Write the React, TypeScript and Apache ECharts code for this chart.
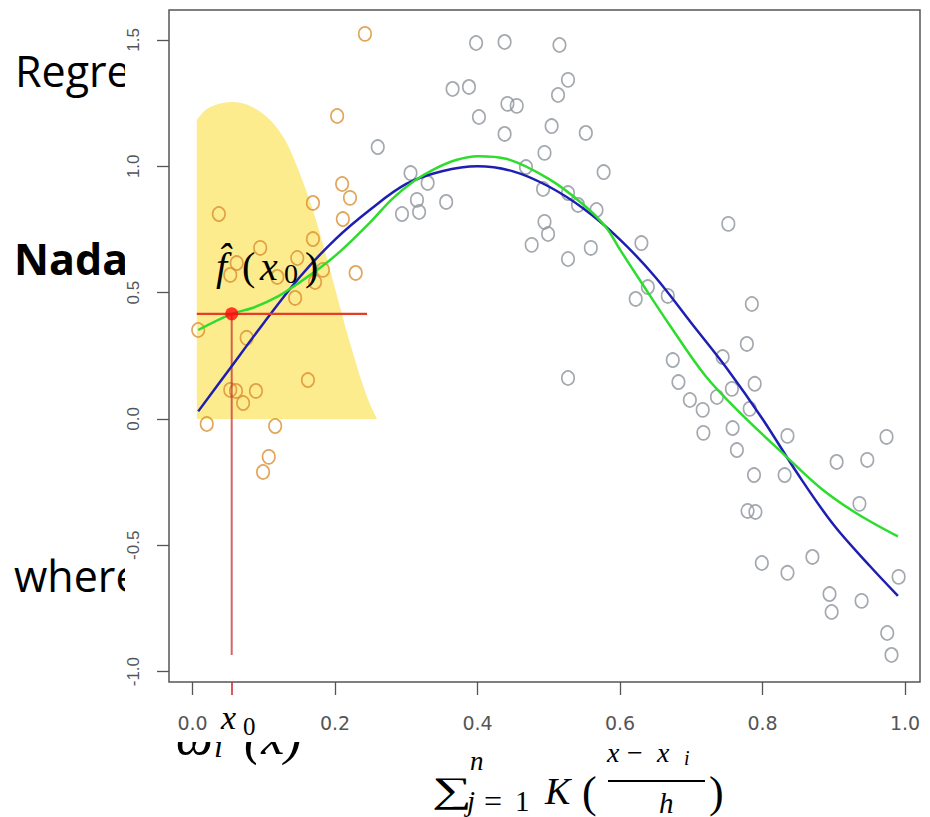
import React, { useEffect, useRef } from "react";
import * as echarts from "echarts";

// ---- axes ----
const xTicks = [0, 0.2, 0.4, 0.6, 0.8, 1.0];
const yTicks = [-1.0, -0.5, 0.0, 0.5, 1.0, 1.5];
const xRange = [-0.033, 1.021];
const yRange = [-1.041, 1.6185];

// ---- target point ----
const x0 = 0.055;
const fx0 = 0.416;
const hLineX = [0.006, 0.245];
const vLineBottom = -0.934;

// ---- observations near x0 (orange) ----
const orangePts: number[][] = [
  [0.242, 1.524], [0.203, 1.199], [0.037, 0.811], [0.21, 0.93], [0.221, 0.875],
  [0.169, 0.855], [0.211, 0.791], [0.169, 0.712], [0.229, 0.578], [0.095, 0.677],
  [0.062, 0.617], [0.053, 0.57], [0.119, 0.562], [0.147, 0.637], [0.172, 0.542],
  [0.183, 0.59], [0.144, 0.479], [0.076, 0.321], [0.008, 0.352], [0.053, 0.115],
  [0.061, 0.111], [0.089, 0.111], [0.071, 0.063], [0.162, 0.154], [0.02, -0.02],
  [0.116, -0.028], [0.107, -0.15], [0.099, -0.21],
];

// ---- other observations (grey) ----
const greyPts: number[][] = [
  [0.26, 1.076], [0.306, 0.973], [0.315, 0.867], [0.294, 0.811], [0.318, 0.819],
  [0.33, 0.934], [0.356, 0.859], [0.398, 1.488], [0.438, 1.492], [0.515, 1.48],
  [0.365, 1.306], [0.388, 1.314], [0.527, 1.342], [0.513, 1.282], [0.442, 1.247],
  [0.455, 1.239], [0.402, 1.195], [0.504, 1.159], [0.438, 1.128], [0.552, 1.132],
  [0.494, 1.053], [0.468, 0.997], [0.577, 0.977], [0.492, 0.91], [0.527, 0.894],
  [0.541, 0.847], [0.567, 0.827], [0.494, 0.78], [0.499, 0.732], [0.476, 0.689],
  [0.559, 0.677], [0.527, 0.633], [0.63, 0.696], [0.639, 0.522], [0.622, 0.475],
  [0.667, 0.487], [0.674, 0.233], [0.527, 0.162], [0.752, 0.772], [0.785, 0.455],
  [0.778, 0.297], [0.744, 0.245], [0.682, 0.146], [0.789, 0.139], [0.757, 0.119],
  [0.736, 0.087], [0.698, 0.075], [0.716, 0.036], [0.782, 0.04], [0.717, -0.055],
  [0.758, -0.036], [0.764, -0.123], [0.835, -0.067], [0.788, -0.222], [0.831, -0.222],
  [0.904, -0.17], [0.947, -0.162], [0.974, -0.071], [0.936, -0.336], [0.779, -0.364],
  [0.79, -0.368], [0.799, -0.57], [0.835, -0.609], [0.87, -0.546], [0.894, -0.693],
  [0.897, -0.764], [0.939, -0.72], [0.991, -0.625], [0.975, -0.847], [0.981, -0.934],
];

// ---- true function (blue) ----
const blueCurve: number[][] = [
  [0.008, 0.03], [0.05, 0.19], [0.1, 0.38], [0.15, 0.56], [0.2, 0.71],
  [0.25, 0.83], [0.3, 0.93], [0.35, 0.98], [0.4, 1.0], [0.45, 0.98],
  [0.5, 0.92], [0.55, 0.83], [0.6, 0.71], [0.65, 0.56], [0.7, 0.38],
  [0.75, 0.2], [0.8, 0.0], [0.85, -0.22], [0.9, -0.42], [0.95, -0.58],
  [0.99, -0.7],
];

// ---- kernel estimate (green) ----
const greenCurve: number[][] = [
  [0.008, 0.352], [0.055, 0.416], [0.085, 0.44], [0.12, 0.485], [0.15, 0.54],
  [0.18, 0.6], [0.21, 0.67], [0.25, 0.78], [0.28, 0.87], [0.31, 0.94],
  [0.34, 0.99], [0.37, 1.025], [0.4, 1.04], [0.44, 1.03], [0.5, 0.95],
  [0.55, 0.845], [0.58, 0.76], [0.6, 0.67], [0.63, 0.54], [0.67, 0.37],
  [0.72, 0.17], [0.77, 0.02], [0.83, -0.14], [0.88, -0.27], [0.93, -0.37],
  [0.99, -0.465],
];

// ---- kernel weight shape (yellow) ----
const kernelShape: number[][] = [
  [0.006, 1.183], [0.018, 1.223], [0.032, 1.243], [0.055, 1.254], [0.081, 1.239],
  [0.109, 1.183], [0.13, 1.104], [0.147, 0.997], [0.169, 0.827], [0.193, 0.59],
  [0.221, 0.301], [0.245, 0.087], [0.259, 0.0],
];

const SERIF = '"Liberation Serif", "DejaVu Serif", serif';

function txt(
  text: string,
  x: number,
  y: number,
  size: number,
  opts: { italic?: boolean; bold?: boolean; family?: string; align?: string; z?: number; scaleX?: number } = {}
) {
  const align = opts.align || "left";
  return {
    type: "text",
    x,
    y,
    scaleX: opts.scaleX ?? 1,
    z: opts.z ?? 30,
    silent: true,
    style: {
      text,
      fill: "#000",
      fontSize: size,
      fontFamily: opts.family || SERIF,
      fontStyle: opts.italic ? "italic" : "normal",
      fontWeight: opts.bold ? "bold" : "normal",
      textAlign: align,
      align,
      textVerticalAlign: "middle",
      verticalAlign: "middle",
    },
  };
}

export default function App() {
  const ref = useRef<HTMLDivElement>(null);

  useEffect(() => {
    document.body.style.margin = "0";
    if (!ref.current) return;
    const chart = echarts.init(ref.current, null, { renderer: "svg" });
    const SANS = '"Open Sans", "Noto Sans", sans-serif';

    const option: any = {
      animation: false,
      grid: {
        left: 169,
        right: 10,
        top: 10,
        bottom: 135,
        show: true,
        borderColor: "#555",
        borderWidth: 1.5,
        backgroundColor: "transparent",
        z: 10,
      },
      xAxis: [
        {
          type: "value",
          min: xRange[0],
          max: xRange[1],
          position: "bottom",
          z: 10,
          splitLine: { show: false },
          axisLine: { show: false, onZero: false },
          axisTick: { show: true, customValues: xTicks, length: 13, lineStyle: { color: "#555", width: 1.3 } },
          axisLabel: {
            customValues: xTicks,
            formatter: (v: number) => v.toFixed(1),
            margin: 31,
            fontSize: 19,
            fontFamily: '"DejaVu Sans", sans-serif',
            color: "#555",
          },
        },
        {
          type: "value",
          min: xRange[0],
          max: xRange[1],
          position: "bottom",
          z: 10,
          splitLine: { show: false },
          axisLine: { show: false, onZero: false },
          axisTick: { show: true, customValues: [x0], length: 13, lineStyle: { color: "rgba(200,50,50,0.8)", width: 2 } },
          axisLabel: { show: false },
        },
      ],
      yAxis: {
        type: "value",
        min: yRange[0],
        max: yRange[1],
        position: "left",
        z: 10,
        splitLine: { show: false },
        axisLine: { show: false, onZero: false },
        axisTick: { show: true, customValues: yTicks, length: 12, lineStyle: { color: "#555", width: 1.3 } },
        axisLabel: {
          customValues: yTicks,
          formatter: (v: number) => v.toFixed(1),
          rotate: 90,
          margin: 27,
          fontSize: 17,
          fontFamily: '"Liberation Sans", Arial, sans-serif',
          color: "#555",
        },
      },
      series: [
        {
          type: "line",
          data: kernelShape,
          smooth: 0.3,
          symbol: "none",
          lineStyle: { width: 0 },
          areaStyle: { color: "#FDEC8E", opacity: 1 },
          z: 10,
          silent: true,
        },
        {
          type: "scatter",
          data: orangePts,
          symbol: "circle",
          symbolSize: [12.5, 14],
          itemStyle: { color: "transparent", borderColor: "#D98E32", borderWidth: 1.7 },
          z: 11,
          silent: true,
        },
        {
          type: "scatter",
          data: greyPts,
          symbol: "circle",
          symbolSize: [12.5, 14],
          itemStyle: { color: "transparent", borderColor: "#8D949C", borderWidth: 1.7 },
          z: 11,
          silent: true,
        },
        {
          type: "line",
          data: [[x0, fx0], [x0, vLineBottom]],
          symbol: "none",
          lineStyle: { color: "rgba(200,50,50,0.75)", width: 2 },
          z: 12,
          silent: true,
        },
        {
          type: "line",
          data: blueCurve,
          smooth: 0.35,
          symbol: "none",
          lineStyle: { color: "#1E1EB2", width: 2.5 },
          z: 13,
          silent: true,
        },
        {
          type: "line",
          data: greenCurve,
          smooth: 0.35,
          symbol: "none",
          lineStyle: { color: "#2EDC2E", width: 2.5 },
          z: 13,
          silent: true,
        },
        {
          type: "line",
          data: [[hLineX[0], fx0], [hLineX[1], fx0]],
          symbol: "none",
          lineStyle: { color: "#E43E2A", width: 2.2 },
          z: 14,
          silent: true,
        },
        {
          type: "scatter",
          data: [[x0, fx0]],
          symbol: "circle",
          symbolSize: 13,
          itemStyle: { color: "#FF0A0A" },
          z: 15,
          silent: true,
        },
      ],
      graphic: {
        elements: [
          // slide text behind the plot picture
          txt("Regre", 15, 70, 43, { family: SANS, z: 1 }),
          txt("Nada", 14, 258, 43, { family: SANS, bold: true, z: 1 }),
          txt("where", 14, 575, 43, { family: SANS, z: 1 }),
          txt("ω", 176, 736, 52, { italic: true, z: 1 }),
          txt("i", 214, 746, 32, { italic: true, z: 1 }),
          txt("(x)", 244, 736, 52, { italic: true, z: 1 }),
          // plot picture background
          {
            type: "rect",
            z: 5,
            silent: true,
            shape: { x: 125, y: 0, width: 805, height: 742 },
            style: { fill: "#ffffff" },
          },
          // f-hat(x0) label
          txt("f\u0302", 216, 266, 40, { italic: true }),
          txt("(", 242, 266, 40),
          txt("x", 260, 266, 40, { italic: true }),
          txt("0", 284, 273, 28),
          txt(")", 305, 266, 40),
          // x0 axis label
          txt("x", 221, 717, 34, { italic: true }),
          txt("0", 243, 726, 25),
          // weight formula denominator
          txt("\u2211", 432, 790, 36, { scaleX: 1.55 }),
          txt("n", 470, 761, 27, { italic: true }),
          txt("j", 467, 801, 29, { italic: true }),
          txt("=", 484, 801, 32),
          txt("1", 515, 801, 29),
          txt("K", 545, 791, 38, { italic: true }),
          txt("(", 582, 792, 44),
          txt("x", 607, 752, 28, { italic: true }),
          txt("\u2212", 627, 752, 28),
          txt("x", 657, 752, 28, { italic: true }),
          txt("i", 684, 758, 20, { italic: true }),
          {
            type: "line",
            z: 30,
            silent: true,
            shape: { x1: 608, y1: 781, x2: 705, y2: 781 },
            style: { stroke: "#000", lineWidth: 2 },
          },
          txt("h", 659, 803, 29, { italic: true }),
          txt(")", 709, 792, 44),
        ],
      },
    };

    chart.setOption(option);
    return () => chart.dispose();
  }, []);

  return <div ref={ref} style={{ width: 930, height: 817 }} />;
}
